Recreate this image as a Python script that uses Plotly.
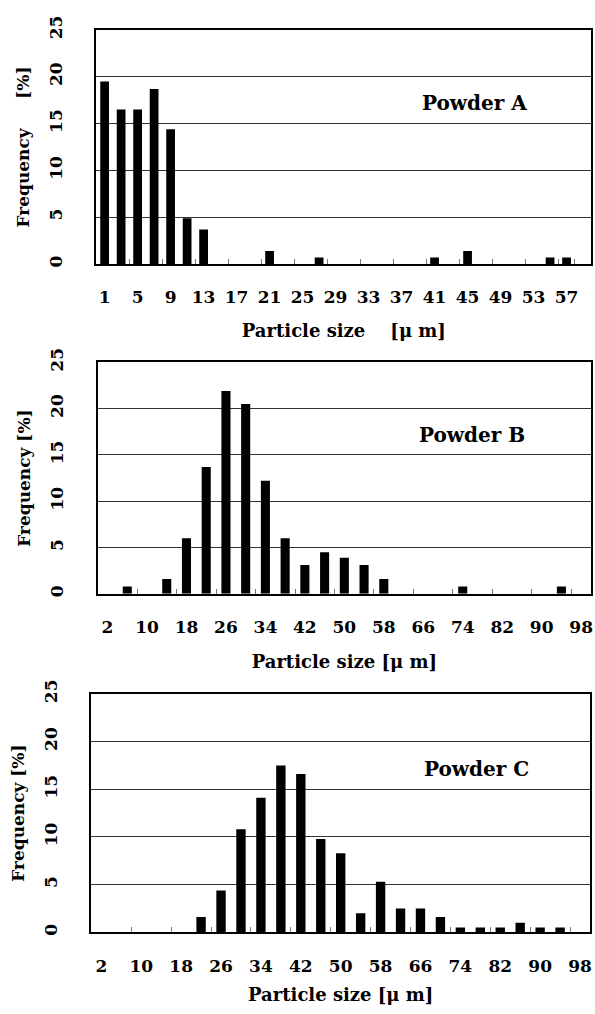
import plotly.graph_objects as go

# ---------------- data ----------------
sizes_a = [1, 3, 5, 7, 9, 11, 13, 15, 17, 19, 21, 23, 25, 27, 29,
           31, 33, 35, 37, 39, 41, 43, 45, 47, 49, 51, 53, 55, 57, 59]
freq_a = [19.5, 16.5, 16.5, 18.7, 14.4, 4.9, 3.7, 0, 0, 0, 1.4, 0, 0, 0.7, 0,
          0, 0, 0, 0, 0, 0.7, 0, 1.4, 0, 0, 0, 0, 0.7, 0.7, 0]

sizes_bc = [2, 6, 10, 14, 18, 22, 26, 30, 34, 38, 42, 46, 50, 54, 58,
            62, 66, 70, 74, 78, 82, 86, 90, 94, 98]
freq_b = [0, 0.8, 0, 1.6, 6.0, 13.7, 21.9, 20.5, 12.2, 6.0, 3.1, 4.5, 3.9, 3.1, 1.6,
          0, 0, 0, 0.8, 0, 0, 0, 0, 0.8, 0]
freq_c = [0, 0, 0, 0, 0, 1.6, 4.4, 10.8, 14.1, 17.5, 16.6, 9.8, 8.3, 2.0, 5.3,
          2.5, 2.5, 1.6, 0.5, 0.5, 0.5, 1.0, 0.5, 0.5, 0]

panels = [
    dict(x=sizes_a, y=freq_a, name="Powder A",
         ytitle="Frequency\u00a0\u00a0\u00a0\u00a0 [%]",
         xtitle="Particle size\u00a0\u00a0\u00a0 [\u03bc m]"),
    dict(x=sizes_bc, y=freq_b, name="Powder B",
         ytitle="Frequency [%]", xtitle="Particle size [\u03bc m]"),
    dict(x=sizes_bc, y=freq_c, name="Powder C",
         ytitle="Frequency [%]", xtitle="Particle size [\u03bc m]"),
]

W, H = 595, 1014
# pixel boxes of the three plot areas (left, right, top, bottom)
boxes = [(96.7, 593.3, 16.3, 254.3),
         (98.0, 593.0, 354.3, 589.7),
         (91.7, 592.0, 691.5, 934.0)]
bargaps = [0.47, 0.54, 0.53]
label_pos = [(0.763, 0.687), (0.758, 0.687), (0.772, 0.685)]
xtitle_standoff = [18, 19, 14]

FONT = "DejaVu Serif"
fig = go.Figure()
layout = dict(width=W, height=H, margin=dict(l=0, r=0, t=0, b=0),
              paper_bgcolor="white", plot_bgcolor="white", showlegend=False,
              annotations=[])

for i, p in enumerate(panels):
    n = "" if i == 0 else str(i + 1)
    xa, ya = "x" + n, "y" + n
    cats = [str(v) for v in p["x"]]
    fig.add_trace(go.Bar(x=cats, y=p["y"], xaxis=xa, yaxis=ya,
                         marker=dict(color="black", line=dict(width=0)),
                         width=1 - bargaps[i]))
    l, r, t, b = boxes[i]
    layout["xaxis" + n] = dict(
        domain=[l / W, r / W], anchor=ya, type="category",
        categoryorder="array", categoryarray=cats,
        tickmode="array", tickvals=cats[::2], ticktext=cats[::2],
        tickangle=0,
        tickson="boundaries", ticks="inside", ticklen=5, tickwidth=1,
        tickcolor="#777777", showgrid=False,
        showline=True, linecolor="black", linewidth=2, mirror=True,
        ticklabelstandoff=17,
        tickfont=dict(family=FONT, size=17, color="black", weight="bold"),
        title=dict(text=p["xtitle"], standoff=xtitle_standoff[i],
                   font=dict(family=FONT, size=18, color="black", weight="bold")),
        fixedrange=True)
    layout["yaxis" + n] = dict(
        domain=[1 - b / H, 1 - t / H], anchor=xa, range=[0, 25],
        tickmode="linear", tick0=0, dtick=5, tickangle=-90,
        ticks="", showgrid=True, gridcolor="#333333", gridwidth=1,
        zeroline=False, showline=True, linecolor="black", linewidth=2, mirror=True,
        ticklabelstandoff=26,
        tickfont=dict(family=FONT, size=17, color="black", weight="bold"),
        title=dict(text=p["ytitle"], standoff=12,
                   font=dict(family=FONT, size=17, color="black", weight="bold")),
        fixedrange=True)
    lx, ly = label_pos[i]
    layout["annotations"].append(dict(
        text=p["name"], xref=xa + " domain", yref=ya + " domain",
        x=lx, y=ly, showarrow=False, xanchor="center", yanchor="middle",
        font=dict(family=FONT, size=20, color="black", weight="bold")))

fig.update_layout(**layout)
fig.write_html("out.html")
